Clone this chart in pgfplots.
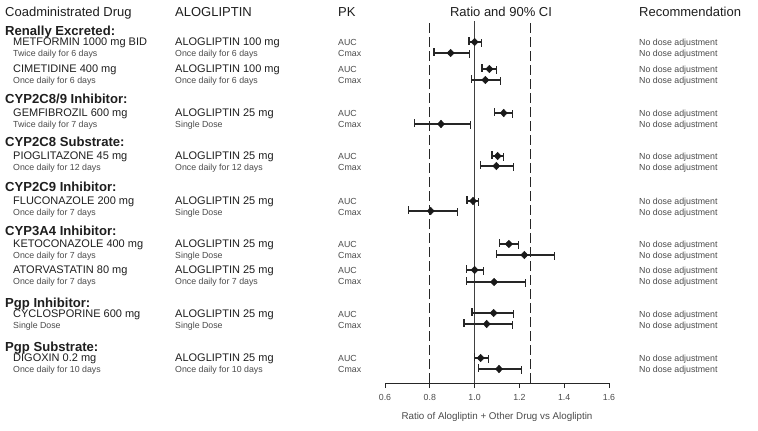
\documentclass[border=0pt]{standalone}
\usepackage{pgfplots}
\pgfplotsset{compat=1.18}
\usepackage{pgfplotstable}
\usepackage{fontspec}
\setmainfont{Liberation Sans}
\definecolor{tx}{HTML}{1E1E1E}
\definecolor{sub}{HTML}{4A4A4A}
\newcommand\hd{\fontsize{13}{15}\selectfont}
\newcommand\grp{\fontsize{13.1}{15}\selectfont\bfseries}
\newcommand\dr{\fontsize{11}{13}\selectfont}
\newcommand\sm{\fontsize{8.8}{10}\selectfont}
\pgfplotstableread{
y v lo hi
-42 1.000 0.975 1.030
-53 0.893 0.819 0.976
-69 1.066 1.033 1.099
-80 1.048 0.985 1.117
-113 1.130 1.090 1.170
-124 0.850 0.730 0.980
-156 1.103 1.078 1.128
-166 1.097 1.025 1.173
-201 0.993 0.966 1.018
-211 0.804 0.704 0.925
-244 1.153 1.112 1.197
-255 1.222 1.097 1.357
-270 1.000 0.965 1.039
-282 1.087 0.963 1.226
-313 1.085 0.988 1.175
-324 1.054 0.953 1.168
-358 1.027 0.999 1.063
-369 1.109 1.018 1.210
}\ratios
\newcommand\row[5]{%
  \node[anchor=mid west,text=tx] at (13pt,-#1pt) {\dr #2};
  \node[anchor=mid west,text=sub] at (13pt,-#1pt-11pt) {\sm #3};
  \node[anchor=mid west,text=tx] at (175pt,-#1pt) {\dr #4};
  \node[anchor=mid west,text=sub] at (175pt,-#1pt-11pt) {\sm #5};
  \node[anchor=mid west,text=sub] at (338pt,-#1pt) {\sm AUC};
  \node[anchor=mid west,text=sub] at (338pt,-#1pt-11pt) {\sm Cmax};
  \node[anchor=mid west,text=sub] at (639pt,-#1pt) {\sm No dose adjustment};
  \node[anchor=mid west,text=sub] at (639pt,-#1pt-11pt) {\sm No dose adjustment};
}
\begin{document}
\begin{tikzpicture}[every node/.style={inner sep=0pt, yshift=-1pt}]
\useasboundingbox (0,0) rectangle (758pt,-431pt);
\begin{axis}[
  at={(385pt,-383pt)}, anchor=south west,
  scale only axis, width=224pt, height=362pt,
  xmin=0.6, xmax=1.6, ymin=-383, ymax=-21,
  axis x line*=bottom, axis y line=none,
  x axis line style={line width=1pt, black!85},
  xtick={0.6,0.8,1.0,1.2,1.4,1.6},
  tick align=outside, major tick length=5pt,
  tick style={line width=1pt, black!85},
  xticklabel style={font=\sm, text=sub, inner sep=0pt, yshift=-5pt},
  /pgf/number format/.cd, fixed, fixed zerofill, precision=1, assume math mode=true,
  /pgfplots/.cd,
  xlabel={Ratio of Alogliptin + Other Drug vs Alogliptin},
  xlabel style={font=\fontsize{9.8}{11}\selectfont, text=sub, at={(axis description cs:0.5,0)}, anchor=center, yshift=-33pt},
  clip=false,
]
\addplot[line width=1pt, black!85, dash pattern=on 10pt off 4pt] coordinates {(0.8,-383) (0.8,-21)};
\addplot[line width=1pt, black!85, dash pattern=on 10pt off 4pt] coordinates {(1.25,-383) (1.25,-21)};
\addplot[line width=1.2pt, black!75] coordinates {(1.0,-383) (1.0,-21)};
\addplot[only marks, mark=diamond*, mark size=3.8pt, black!90,
  mark options={xscale=1.25},
  error bars/.cd, x dir=both, x explicit,
  error bar style={line width=1.2pt, black!85},
  error mark options={line width=1.2pt, black!85, mark size=3.8pt, rotate=90}]
  table[x=v, y=y, x error plus expr=\thisrow{hi}-\thisrow{v}, x error minus expr=\thisrow{v}-\thisrow{lo}] {\ratios};
\end{axis}
\node[anchor=mid west,text=tx] at (5pt,-13pt) {\hd Coadministrated Drug};
\node[anchor=mid west,text=tx] at (175pt,-13pt) {\hd ALOGLIPTIN};
\node[anchor=mid west,text=tx] at (338pt,-13pt) {\hd PK};
\node[anchor=mid,text=tx] at (501pt,-13pt) {\hd Ratio and 90\% CI};
\node[anchor=mid west,text=tx] at (639pt,-13pt) {\hd Recommendation};
\node[anchor=mid west,text=tx] at (5pt,-32pt) {\grp Renally Excreted:};
\node[anchor=mid west,text=tx] at (5pt,-100pt) {\grp CYP2C8/9 Inhibitor:};
\node[anchor=mid west,text=tx] at (5pt,-143pt) {\grp CYP2C8 Substrate:};
\node[anchor=mid west,text=tx] at (5pt,-188pt) {\grp CYP2C9 Inhibitor:};
\node[anchor=mid west,text=tx] at (5pt,-232pt) {\grp CYP3A4 Inhibitor:};
\node[anchor=mid west,text=tx] at (5pt,-304pt) {\grp Pgp Inhibitor:};
\node[anchor=mid west,text=tx] at (5pt,-348pt) {\grp Pgp Substrate:};
\row{42}{METFORMIN 1000 mg BID}{Twice daily for 6 days}{ALOGLIPTIN 100 mg}{Once daily for 6 days}
\row{69}{CIMETIDINE 400 mg}{Once daily for 6 days}{ALOGLIPTIN 100 mg}{Once daily for 6 days}
\row{113}{GEMFIBROZIL 600 mg}{Twice daily for 7 days}{ALOGLIPTIN 25 mg}{Single Dose}
\row{156}{PIOGLITAZONE 45 mg}{Once daily for 12 days}{ALOGLIPTIN 25 mg}{Once daily for 12 days}
\row{201}{FLUCONAZOLE 200 mg}{Once daily for 7 days}{ALOGLIPTIN 25 mg}{Single Dose}
\row{244}{KETOCONAZOLE 400 mg}{Once daily for 7 days}{ALOGLIPTIN 25 mg}{Single Dose}
\row{270}{ATORVASTATIN 80 mg}{Once daily for 7 days}{ALOGLIPTIN 25 mg}{Once daily for 7 days}
\row{314}{CYCLOSPORINE 600 mg}{Single Dose}{ALOGLIPTIN 25 mg}{Single Dose}
\row{358}{DIGOXIN 0.2 mg}{Once daily for 10 days}{ALOGLIPTIN 25 mg}{Once daily for 10 days}
\end{tikzpicture}
\end{document}
